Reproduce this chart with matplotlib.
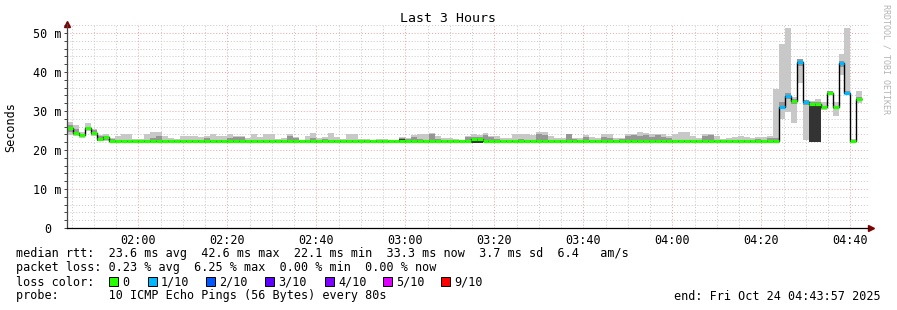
#!/usr/bin/env python3

import numpy as np
import matplotlib
matplotlib.use('Agg')
from matplotlib import pyplot as plt
from matplotlib import dates as mdates
from matplotlib.patches import Rectangle
from matplotlib.ticker import MultipleLocator


W, H = 897, 310
MONO = 'DejaVu Sans Mono'

# one smokeping round every 80 s, 134 rounds with data
t_first = np.datetime64('2025-10-24T01:44:00')
t_start = np.datetime64('2025-10-24T01:43:57')
t_end = np.datetime64('2025-10-24T04:43:57')
step_s = 80

# milliseconds
rtt_median = [
    25.7, 24.4, 23.8, 25.7, 24.3, 22.9, 23.3, 22.3, 22.3, 22.3,
    22.3, 22.3, 22.3, 22.3, 22.3, 22.4, 22.3, 22.3, 22.3, 22.3,
    22.3, 22.3, 22.3, 22.3, 22.3, 22.3, 22.3, 22.4, 22.3, 22.3,
    22.3, 22.3, 22.3, 22.3, 22.3, 22.3, 22.3, 22.4, 22.3, 22.3,
    22.3, 22.3, 22.3, 22.3, 22.3, 22.3, 22.3, 22.3, 22.3, 22.3,
    22.3, 22.3, 22.3, 22.3, 22.3, 22.3, 22.4, 22.3, 22.3, 22.3,
    22.3, 22.3, 22.3, 22.3, 22.3, 22.3, 22.3, 22.3, 22.9, 22.9,
    22.3, 22.3, 22.3, 22.3, 22.3, 22.3, 22.3, 22.3, 22.3, 22.3,
    22.3, 22.3, 22.3, 22.3, 22.4, 22.3, 22.3, 22.3, 22.3, 22.3,
    22.3, 22.3, 22.3, 22.3, 22.3, 22.3, 22.4, 22.3, 22.3, 22.3,
    22.3, 22.3, 22.3, 22.3, 22.3, 22.3, 22.3, 22.3, 22.3, 22.3,
    22.3, 22.3, 22.3, 22.3, 22.3, 22.3, 22.3, 22.3, 22.3, 22.4,
    31.1, 33.8, 32.5, 42.6, 32.3, 31.8, 31.8, 30.9, 34.7, 30.9,
    42.2, 34.7, 22.3, 33.2,
]
rtt_max = [
    27.2, 26.3, 24.6, 26.9, 25.5, 23.9, 24.0, 23.1, 23.6, 24.1,
    24.1, 22.7, 22.7, 24.1, 24.6, 24.6, 23.6, 23.1, 22.7, 23.6,
    23.6, 23.6, 23.3, 23.6, 24.0, 23.6, 23.6, 24.1, 23.6, 23.6,
    23.1, 24.0, 23.3, 24.0, 24.0, 22.9, 23.1, 24.0, 23.3, 22.5,
    23.6, 24.3, 23.1, 23.3, 24.3, 23.3, 22.9, 24.1, 24.1, 22.9,
    22.9, 22.6, 22.9, 22.9, 22.5, 22.3, 23.3, 23.1, 23.8, 24.1,
    24.1, 24.3, 23.6, 23.1, 23.1, 22.9, 22.5, 23.6, 24.1, 23.8,
    24.3, 23.6, 23.6, 23.1, 23.1, 24.1, 24.1, 24.1, 23.8, 24.5,
    24.5, 23.6, 23.1, 23.1, 24.1, 23.1, 23.1, 23.8, 23.3, 23.1,
    24.1, 24.0, 23.1, 23.1, 24.1, 24.1, 24.5, 24.3, 24.1, 24.1,
    24.0, 23.6, 24.1, 24.5, 24.5, 23.6, 23.1, 24.0, 24.1, 23.6,
    22.7, 23.1, 23.3, 23.6, 23.3, 23.0, 23.4, 23.3, 23.5, 35.6,
    47.3, 51.3, 33.6, 43.3, 32.9, 32.6, 33.0, 32.3, 35.1, 32.3,
    44.6, 51.3, 22.8, 35.1,
]
rtt_q3 = [
    26.4, 25.3, 24.2, 26.0, 25.0, 23.7, 23.6, 22.8, 22.6, 22.6,
    22.5, 22.5, 22.5, 22.6, 23.0, 23.5, 22.6, 22.5, 22.5, 22.5,
    22.5, 22.6, 22.5, 23.0, 22.6, 22.5, 22.5, 23.0, 23.3, 23.3,
    22.6, 22.5, 22.6, 22.6, 22.6, 22.5, 22.5, 23.6, 23.0, 22.4,
    22.6, 23.1, 22.6, 22.9, 22.6, 22.6, 22.5, 22.6, 22.6, 22.5,
    22.5, 22.4, 22.5, 22.5, 22.4, 22.3, 23.0, 22.9, 23.3, 22.9,
    22.6, 24.1, 22.9, 22.6, 22.6, 22.5, 22.4, 23.3, 23.3, 23.3,
    23.8, 23.3, 22.9, 22.6, 22.6, 22.6, 22.9, 22.6, 22.6, 24.1,
    23.8, 22.6, 22.6, 22.6, 24.1, 22.7, 22.6, 23.3, 22.6, 22.6,
    23.4, 23.1, 22.6, 22.7, 23.6, 23.8, 23.6, 23.9, 23.3, 23.8,
    23.3, 23.1, 22.6, 22.6, 22.6, 22.6, 22.6, 23.6, 23.8, 22.6,
    22.5, 22.6, 22.6, 22.6, 22.6, 22.6, 22.8, 22.6, 23.0, 23.2,
    32.3, 34.5, 33.0, 43.3, 32.9, 32.2, 32.3, 31.3, 35.0, 31.3,
    42.8, 35.0, 22.6, 33.6,
]
rtt_q1 = [
    24.6, 23.9, 23.5, 25.0, 23.9, 22.4, 22.6, 22.0, 22.0, 22.0,
    22.0, 22.0, 22.0, 22.0, 22.0, 22.0, 22.0, 22.0, 22.0, 22.0,
    22.0, 22.0, 22.0, 22.0, 22.0, 22.0, 22.0, 22.0, 22.0, 22.0,
    22.0, 22.0, 22.0, 22.0, 22.0, 22.0, 22.0, 22.0, 22.0, 22.0,
    22.0, 22.0, 22.0, 22.0, 22.0, 22.0, 22.0, 22.0, 22.0, 22.0,
    22.0, 22.0, 22.0, 22.0, 22.0, 22.0, 22.0, 22.0, 22.0, 22.0,
    22.0, 22.0, 22.0, 22.0, 22.0, 22.0, 22.0, 22.0, 21.9, 21.9,
    22.0, 22.0, 22.0, 22.0, 22.0, 22.0, 22.0, 22.0, 22.0, 22.0,
    22.0, 22.0, 22.0, 22.0, 22.0, 22.0, 22.0, 22.0, 22.0, 22.0,
    22.0, 22.0, 22.0, 22.0, 22.0, 22.0, 22.0, 22.0, 22.0, 22.0,
    22.0, 22.0, 22.0, 22.0, 22.0, 22.0, 22.0, 22.0, 22.0, 22.0,
    22.0, 22.0, 22.0, 22.0, 22.0, 22.0, 22.0, 22.0, 22.0, 22.0,
    30.4, 33.0, 31.8, 41.6, 31.6, 31.3, 31.3, 30.6, 34.4, 30.4,
    41.3, 34.4, 22.0, 32.6,
]
rtt_min = [
    23.8, 23.6, 23.2, 24.8, 23.6, 22.2, 22.2, 22.0, 22.0, 22.0,
    22.0, 22.0, 22.0, 22.0, 22.0, 22.0, 22.0, 22.0, 22.0, 22.0,
    22.0, 22.0, 22.0, 22.0, 22.0, 22.0, 22.0, 22.0, 22.0, 22.0,
    22.0, 22.0, 22.0, 22.0, 22.0, 22.0, 22.0, 22.0, 22.0, 22.0,
    22.0, 22.0, 22.0, 22.0, 22.0, 22.0, 22.0, 22.0, 22.0, 22.0,
    22.0, 22.0, 22.0, 22.0, 22.0, 22.0, 22.0, 22.0, 22.0, 22.0,
    22.0, 22.0, 22.0, 22.0, 22.0, 22.0, 22.0, 22.0, 21.9, 21.9,
    22.0, 22.0, 22.0, 22.0, 22.0, 22.0, 22.0, 22.0, 22.0, 22.0,
    22.0, 22.0, 22.0, 22.0, 22.0, 22.0, 22.0, 22.0, 22.0, 22.0,
    22.0, 22.0, 22.0, 22.0, 22.0, 22.0, 22.0, 22.0, 22.0, 22.0,
    22.0, 22.0, 22.0, 22.0, 22.0, 22.0, 22.0, 22.0, 22.0, 22.0,
    22.0, 22.0, 22.0, 22.0, 22.0, 22.0, 22.0, 22.0, 22.0, 22.0,
    27.9, 29.7, 27.0, 37.3, 22.5, 22.0, 22.0, 30.3, 34.3, 28.7,
    39.3, 34.4, 22.0, 32.0,
]
# rounds where most pings bunch up (dark smoke)
dense_steps = [5, 56, 68, 69, 125, 126]
dense_lo = [22.3, 22.3, 21.9, 21.9, 22.05, 22.05]
dense_hi = [22.8, 22.9, 22.6, 22.6, 31.5, 31.5]
# rounds that lost 1 of 10 pings
lossy_steps = [120, 121, 123, 124, 130, 131]

loss_names = ['0', '1/10', '2/10', '3/10', '4/10', '5/10', '9/10']
loss_colors = ['#26ff00', '#00b8ff', '#0059ff', '#5e00ff',
               '#7e00ff', '#dd00ff', '#ff0000']

y_ticks = [0, 10, 20, 30, 40, 50]
y_labels = ['0', '10 m', '20 m', '30 m', '40 m', '50 m']

stats = [
    'median rtt:  23.6 ms avg  42.6 ms max  22.1 ms min  33.3 ms now  3.7 ms sd  6.4   am/s',
    'packet loss: 0.23 % avg  6.25 % max  0.00 % min  0.00 % now',
    'loss color:',
    'probe:       10 ICMP Echo Pings (56 Bytes) every 80s',
]
end_text = 'end: Fri Oct 24 04:43:57 2025'


def fx(px):
    return px / W


def fy(py):
    return 1 - py / H


n = len(rtt_median)
edges = mdates.date2num(t_first + np.arange(n + 1) * np.timedelta64(step_s, 's'))
step = edges[1] - edges[0]

fig = plt.figure(figsize=(W / 100, H / 100), dpi=100)
fig.patch.set_facecolor('white')
ax = fig.add_axes([fx(67), fy(228), fx(868 - 67), (228 - 24) / H])

# smoke
ax.stairs(rtt_max, edges, baseline=rtt_min, fill=True, color='#c8c8c8', lw=0)
ax.stairs(rtt_q3, edges, baseline=rtt_q1, fill=True, color='#969696', lw=0)
ax.bar([edges[k] for k in dense_steps], np.array(dense_hi) - np.array(dense_lo),
       bottom=dense_lo, width=step, align='edge', color='#333333', lw=0)

# median
ax.stairs(rtt_median, edges, baseline=None, color='black', lw=1.0)
loss = np.zeros(n, dtype=int)
loss[lossy_steps] = 1
seg_colors = [loss_colors[v] for v in loss]
ax.hlines(rtt_median, edges[:-1], edges[1:], colors=seg_colors, lw=2.3,
          capstyle='butt')

ax.set_xlim(mdates.date2num(t_start), mdates.date2num(t_end))
ax.set_ylim(0, 52.3)

ax.xaxis.set_major_locator(mdates.MinuteLocator(byminute=[0, 20, 40]))
ax.xaxis.set_minor_locator(mdates.MinuteLocator(byminute=range(0, 60, 5)))
ax.xaxis.set_major_formatter(mdates.DateFormatter('%H:%M'))
ax.set_yticks(y_ticks, y_labels)
ax.yaxis.set_minor_locator(MultipleLocator(2))

ax.set_axisbelow(True)
ax.grid(which='minor', color='#c8c8c8', linestyle=(0, (1, 2)), lw=0.7)
ax.grid(which='major', color='#f0a0a0', linestyle=(0, (1, 2)), lw=0.7)

for side in ('top', 'right'):
    ax.spines[side].set_visible(False)
ax.spines['left'].set_color('#444444')
ax.spines['bottom'].set_color('#000000')
ax.spines['left'].set_linewidth(0.9)
ax.spines['bottom'].set_linewidth(0.9)

ax.tick_params(axis='y', which='both', length=2, width=0.7, color='#444444',
               direction='out')
ax.tick_params(axis='x', which='both', length=0)
ax.tick_params(axis='x', labelsize=8.5, pad=4)
ax.tick_params(axis='y', labelsize=8.5, pad=12)
for lab in ax.get_yticklabels():
    lab.set_horizontalalignment('center')
for lab in ax.get_xticklabels() + ax.get_yticklabels():
    lab.set_fontfamily(MONO)

# axis arrows
ax.plot([0], [1.0], marker='^', color='#800000', ms=4, transform=ax.transAxes,
        clip_on=False)
ax.plot([1.004], [0], marker='>', color='#800000', ms=4, transform=ax.transAxes,
        clip_on=False)

fig.text(fx(448), fy(19), 'Last 3 Hours', ha='center', va='center',
         family=MONO, size=9.5)
fig.text(fx(11), fy(127), 'Seconds', ha='center', va='center', rotation=90,
         family=MONO, size=8.5)
fig.text(fx(886), fy(4), 'RRDTOOL / TOBI OETIKER', ha='center', va='top',
         rotation=270, family=MONO, size=6, color='#b4b4b4')

for i, line in enumerate(stats):
    fig.text(fx(16), fy(254 + 14 * i), line, ha='left', va='center',
             family=MONO, size=8.5)
fig.text(fx(881), fy(296), end_text, ha='right', va='center', family=MONO, size=8.5)

box_x = [109, 148, 206, 265, 325, 383, 441]
for x0, name, col in zip(box_x, loss_names, loss_colors):
    fig.patches.append(Rectangle((fx(x0), fy(286)), fx(9), 9 / H, facecolor=col,
                                 edgecolor='black', lw=0.7,
                                 transform=fig.transFigure))
    fig.text(fx(x0 + 13), fy(282), name, ha='left', va='center',
             family=MONO, size=8.5)

fig.savefig('out.png', dpi=100, facecolor='white')
